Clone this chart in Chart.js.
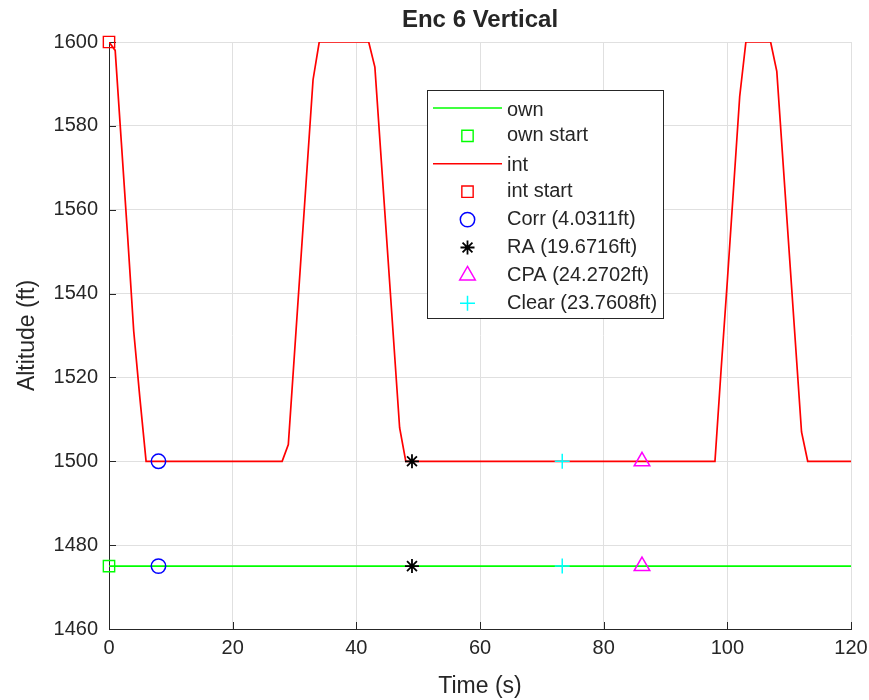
<!DOCTYPE html>
<html><head><meta charset="utf-8">
<script src="https://cdn.jsdelivr.net/npm/chart.js@4/dist/chart.umd.min.js"></script>
<style>html,body{margin:0;padding:0;background:#fff}#wrap{width:869px;height:700px}</style>
</head><body><div id="wrap"><canvas id="c" width="869" height="700"></canvas></div>
<script>
const titleText = 'Enc 6 Vertical';
const xLabel = 'Time (s)';
const yLabel = 'Altitude (ft)';
const xTicks = [0, 20, 40, 60, 80, 100, 120];
const yTicks = [1460, 1480, 1500, 1520, 1540, 1560, 1580, 1600];
const ownTime = [0, 120];
const ownAlt = [1475, 1475];
const intTime = [0, 1, 2, 3, 4, 5, 6, 28, 29, 33, 34, 42, 43, 47, 48, 98, 99, 100, 101, 102, 103, 107, 108, 112, 113, 120];
const intAlt = [1600, 1598, 1576, 1554, 1531, 1515, 1500, 1500, 1504, 1591, 1600, 1600, 1594, 1508, 1500, 1500, 1522, 1543, 1565, 1587, 1600, 1600, 1593, 1507, 1500, 1500];
const startTime = 0;
const ownStartAlt = 1475;
const intStartAlt = 1600;
const eventNames = ['Corr (4.0311ft)', 'RA (19.6716ft)', 'CPA (24.2702ft)', 'Clear (23.7608ft)'];
const eventTimes = [8, 49, 86.2, 73.3];
const eventOwnAlt = [1475, 1475, 1475, 1475];
const eventIntAlt = [1500, 1500, 1500, 1500];

const FONT = '"Liberation Sans", Arial, Helvetica, sans-serif';
const TXT = '#262626';
const eventStyles = [
  {color: '#0000ff', pointStyle: 'circle', radius: 7.2},
  {color: '#000000', pointStyle: 'star', radius: 7},
  {color: '#ff00ff', pointStyle: 'triangle', radius: 9},
  {color: '#00ffff', pointStyle: 'cross', radius: 7.5}
];
const zip = (xs, ys) => xs.map((x, i) => ({x, y: ys[i]}));

const datasets = [
  {label: 'own', data: zip(ownTime, ownAlt), borderColor: '#00ff00', borderWidth: 1.6, pointRadius: 0, showLine: true, order: 10, isLine: true},
  {label: 'own start', data: [{x: startTime, y: ownStartAlt}], borderColor: '#00ff00', backgroundColor: 'rgba(0,0,0,0)', pointStyle: 'rect', pointRadius: 8, borderWidth: 1.4, showLine: false, clip: false, order: 1},
  {label: 'int', data: zip(intTime, intAlt), borderColor: '#ff0000', borderWidth: 1.7, pointRadius: 0, showLine: true, order: 9, isLine: true},
  {label: 'int start', data: [{x: startTime, y: intStartAlt}], borderColor: '#ff0000', backgroundColor: 'rgba(0,0,0,0)', pointStyle: 'rect', pointRadius: 8, borderWidth: 1.4, showLine: false, clip: false, order: 1}
];
eventNames.forEach((n, i) => {
  const s = eventStyles[i];
  datasets.push({label: n, data: [{x: eventTimes[i], y: eventIntAlt[i]}, {x: eventTimes[i], y: eventOwnAlt[i]}],
    borderColor: s.color, backgroundColor: 'rgba(0,0,0,0)', pointStyle: s.pointStyle, pointRadius: s.radius,
    pointBorderWidth: s.pointStyle === 'star' ? 1.8 : 1.5, borderWidth: 1.5, showLine: false, clip: false, order: 0});
});

const axisPlugin = {
  id: 'axisTicks',
  beforeDatasetsDraw(chart) {
    const {ctx, chartArea: a, scales: {x, y}} = chart;
    ctx.save();
    ctx.strokeStyle = TXT; ctx.lineWidth = 1;
    ctx.beginPath();
    xTicks.forEach(v => { const px = Math.round(x.getPixelForValue(v)) + 0.5; ctx.moveTo(px, a.bottom); ctx.lineTo(px, a.bottom - 7); });
    yTicks.forEach(v => { const py = Math.round(y.getPixelForValue(v)) + 0.5; ctx.moveTo(a.left, py); ctx.lineTo(a.left + 7, py); });
    ctx.stroke();
    // axes title centred over the plot area
    ctx.fillStyle = TXT;
    ctx.font = 'bold 24px ' + FONT;
    ctx.textAlign = 'center';
    ctx.textBaseline = 'middle';
    ctx.fillText(titleText, (a.left + a.right) / 2, 20);
    ctx.restore();
  }
};

const legendPlugin = {
  id: 'innerLegend',
  afterDraw(chart) {
    const {ctx, chartArea: a} = chart;
    const bx = a.left + 318, by = a.top + 48, bw = 236, bh = 228;
    ctx.save();
    ctx.fillStyle = '#ffffff';
    ctx.fillRect(bx, by, bw, bh);
    ctx.strokeStyle = TXT; ctx.lineWidth = 1;
    ctx.strokeRect(bx + 0.5, by + 0.5, bw, bh);
    const rowH = 27.9;
    chart.data.datasets.forEach((d, i) => {
      const cy = by + 18 + i * rowH;
      ctx.strokeStyle = d.borderColor;
      if (d.isLine) {
        ctx.lineWidth = 1.6;
        ctx.beginPath(); ctx.moveTo(bx + 6, cy); ctx.lineTo(bx + 75, cy); ctx.stroke();
      } else {
        ctx.fillStyle = 'rgba(0,0,0,0)';
        ctx.lineWidth = d.pointBorderWidth || d.borderWidth || 1.4;
        Chart.helpers.drawPoint(ctx, {pointStyle: d.pointStyle, radius: d.pointRadius, rotation: 0, borderWidth: ctx.lineWidth}, bx + 40.5, cy);
      }
      ctx.fillStyle = TXT;
      ctx.font = '20px ' + FONT;
      ctx.textBaseline = 'middle';
      ctx.textAlign = 'left';
      ctx.fillText(d.label, bx + 80, cy + (d.isLine ? 2 : 0));
    });
    ctx.restore();
  }
};

new Chart(document.getElementById('c'), {
  type: 'scatter',
  data: {datasets},
  plugins: [axisPlugin, legendPlugin],
  options: {
    responsive: false,
    animation: false,
    devicePixelRatio: 1,
    layout: {padding: {left: 0, right: 18, top: 42, bottom: 0}},
    plugins: {
      legend: {display: false},
      tooltip: {enabled: false},
      title: {display: false}
    },
    scales: {
      x: {
        type: 'linear', min: 0, max: 120,
        afterBuildTicks: s => { s.ticks = xTicks.map(v => ({value: v})); },
        afterFit: s => { s.height = 71; s.paddingRight = 0; s.paddingLeft = 0; },
        ticks: {color: TXT, font: {family: FONT, size: 20}, padding: 7, maxRotation: 0, callback: v => String(v)},
        grid: {color: '#e0e0e0', drawTicks: false},
        border: {color: TXT, width: 1},
        title: {display: true, text: xLabel, color: TXT, font: {family: FONT, size: 23}, padding: {top: 0, bottom: 0}}
      },
      y: {
        type: 'linear', min: 1460, max: 1600,
        afterBuildTicks: s => { s.ticks = yTicks.map(v => ({value: v})); },
        afterFit: s => { s.width = 109; s.paddingTop = 0; s.paddingBottom = 0; },
        ticks: {color: TXT, font: {family: FONT, size: 20}, padding: 11, callback: v => String(v)},
        grid: {color: '#e0e0e0', drawTicks: false},
        border: {color: TXT, width: 1},
        title: {display: true, text: yLabel, color: TXT, font: {family: FONT, size: 23}, padding: {top: 14, bottom: 0}}
      }
    }
  }
});
</script></body></html>
